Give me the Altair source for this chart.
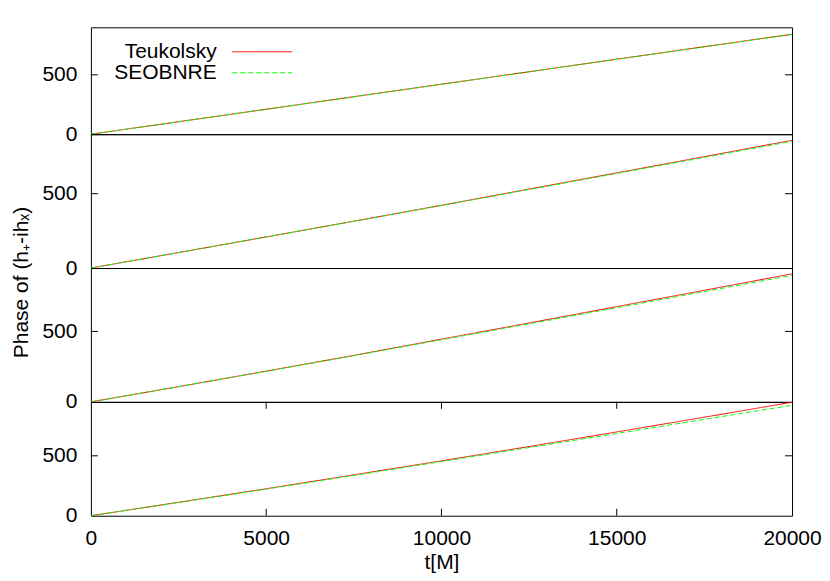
import altair as alt
import pandas as pd

# ---- data ----
t = [0, 2500, 5000, 7500, 10000, 12500, 15000, 17500, 20000]
series = ["Teukolsky", "SEOBNRE"]

p1_teuk = [0, 105, 210, 316, 421, 526, 632, 737, 842]
p1_seob = [0, 105, 210, 315, 420, 525, 630, 735, 840]
p2_teuk = [0, 104, 209, 315, 422, 531, 640, 749, 859]
p2_seob = [0, 104, 209, 314, 420, 528, 636, 744, 852]
p3_teuk = [0, 108, 218, 330, 445, 560, 676, 792, 909]
p3_seob = [0, 108, 217, 328, 441, 554, 668, 783, 898]
p4_teuk = [0, 112, 225, 341, 458, 577, 699, 822, 947]
p4_seob = [0, 110, 222, 336, 452, 569, 686, 804, 922]

y_max = [900, 900, 950, 950]
heights = [107, 134, 134, 114]
y_label_values = [0, 500]
inner_y_ticks = [500]
x_label_values = [0, 5000, 10000, 15000, 20000]
inner_x_ticks = [5000, 10000, 15000]

W = 702
TICK = 7
FONT = "Liberation Sans"
FS = 21
colors = ["#ff0000", "#00ff00"]
dashes = [[1, 0], [5, 3]]

panels_data = [
    (p1_teuk, p1_seob),
    (p2_teuk, p2_seob),
    (p3_teuk, p3_seob),
    (p4_teuk, p4_seob),
]

xscale = alt.Scale(domain=[0, 20000], nice=False, zero=False)

legend = alt.Legend(title=None, orient="none", legendX=161, legendY=14,
                    symbolType="M-6,0H6", symbolSize=100,
                    symbolStrokeWidth=1, labelAlign="right",
                    labelOffset={"expr": "-56"}, labelFontSize=FS,
                    labelFont=FONT, labelColor="#000",
                    rowPadding={"expr": "-3"}, padding=0)


def make_panel(i):
    teuk, seob = panels_data[i]
    h = heights[i]
    df = pd.DataFrame({
        "t": t + t,
        "phase": teuk + seob,
        "series": [series[0]] * len(t) + [series[1]] * len(t),
    })
    yscale = alt.Scale(domain=[0, y_max[i]], nice=False, zero=False)

    ykw = dict(values=y_label_values, ticks=False, tickSize=0, domain=False,
               grid=False, labelPadding=14, labelFontSize=FS, labelFont=FONT,
               labelColor="#000")
    if i == 1:
        ykw.update(title="Phase of (h\u208a-ih\u2093)", titleAngle=270,
                   titleX=-63, titleY=148, titleAlign="center",
                   titleBaseline="alphabetic", titleFontSize=FS,
                   titleFont=FONT, titleFontWeight="normal", titleColor="#000")
    else:
        ykw.update(title=None)
    yaxis = alt.Axis(**ykw)

    if i == 3:
        xaxis = alt.Axis(values=x_label_values, ticks=False, tickSize=0,
                         domain=False, grid=False, labelPadding=12,
                         labelFontSize=FS, labelFont=FONT, labelColor="#000",
                         labelFlush=False, format="d",
                         title="t[M]", titleFontSize=FS, titleFont=FONT,
                         titleFontWeight="normal", titleColor="#000",
                         titlePadding=3, labelOverlap=False)
    else:
        xaxis = None

    lines = alt.Chart(df).mark_line(strokeWidth=1, clip=True).encode(
        x=alt.X("t:Q", scale=xscale, axis=xaxis),
        y=alt.Y("phase:Q", scale=yscale, axis=yaxis),
        color=alt.Color("series:N", scale=alt.Scale(domain=series, range=colors),
                        legend=legend),
        strokeDash=alt.StrokeDash("series:N",
                                  scale=alt.Scale(domain=series, range=dashes),
                                  legend=legend),
        order=alt.Order("order:Q"),
    ).transform_calculate(order="datum.series == 'Teukolsky' ? 0 : 1")

    ytick_df = pd.DataFrame({"v": inner_y_ticks})
    ytl = alt.Chart(ytick_df).mark_rule(color="#000", strokeWidth=1).encode(
        y=alt.Y("v:Q", scale=yscale), x=alt.value(0), x2=alt.value(TICK))
    ytr = alt.Chart(ytick_df).mark_rule(color="#000", strokeWidth=1).encode(
        y=alt.Y("v:Q", scale=yscale), x=alt.value(W - TICK), x2=alt.value(W))
    layers = [lines, ytl, ytr]

    if i == 3:
        xtick_df = pd.DataFrame({"v": inner_x_ticks})
        xtb = alt.Chart(xtick_df).mark_rule(color="#000", strokeWidth=1).encode(
            x=alt.X("v:Q", scale=xscale), y=alt.value(h - TICK), y2=alt.value(h))
        xtt = alt.Chart(xtick_df).mark_rule(color="#000", strokeWidth=1).encode(
            x=alt.X("v:Q", scale=xscale), y=alt.value(0), y2=alt.value(TICK))
        layers += [xtb, xtt]

    return alt.layer(*layers).properties(width=W, height=h)


chart = alt.vconcat(
    *[make_panel(i) for i in range(4)], spacing=0, bounds="flush"
).properties(
    padding={"left": 2, "top": 18, "right": 0, "bottom": 0},
    background="white",
).configure_view(
    stroke="#000", strokeWidth=1
)

chart.save("out.html", embed_options={"renderer": "svg", "actions": False})
